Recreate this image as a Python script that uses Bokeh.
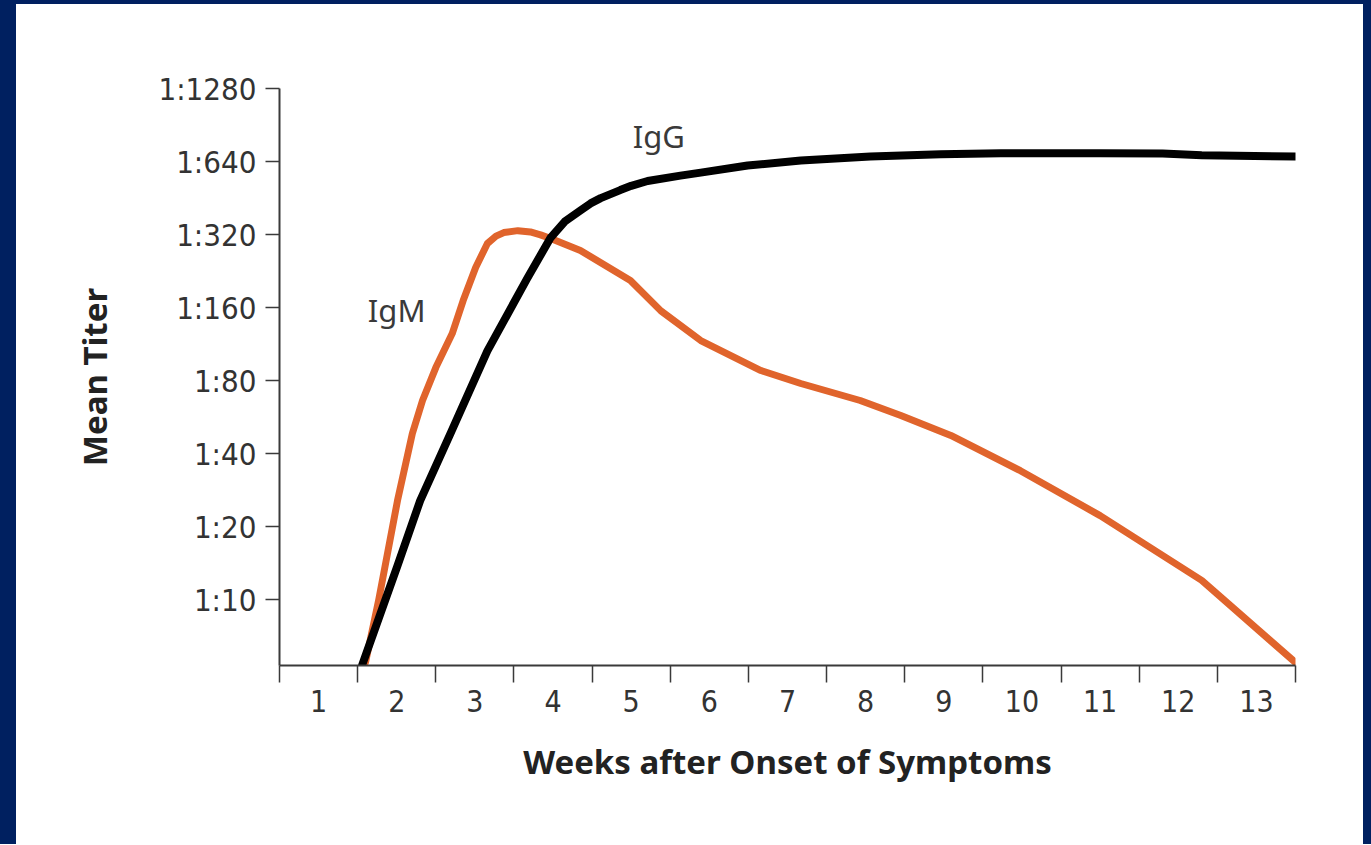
from bokeh.plotting import figure
from bokeh.models import FixedTicker, Range1d, ColumnDataSource, Div
from bokeh.layouts import column, row
from bokeh.core.properties import value
from bokeh.embed import file_html
from bokeh.resources import INLINE

# ---- data ----
weeks = [1, 2, 3, 4, 5, 6, 7, 8, 9, 10, 11, 12, 13]
titer_ticks = [10, 20, 40, 80, 160, 320, 640, 1280]
titer_labels = ["1:10", "1:20", "1:40", "1:80", "1:160", "1:320", "1:640", "1:1280"]

igg_week = [1.56, 2.01, 2.30, 2.70, 3.16, 3.67, 3.97, 4.15, 4.35, 4.48, 4.61, 4.86,
            5.00, 5.21, 5.63, 5.89, 6.49, 7.17, 8.06, 8.96, 9.73, 11.0, 11.8,
            12.3, 13.5]
igg_titer = [5.4, 13.8, 25.6, 49.4, 106, 211, 311, 362, 402, 430, 452, 488,
             508, 532, 560, 576, 616, 646, 671, 686, 692, 692, 690,
             680, 671]

igm_week = [1.60, 1.77, 2.01, 2.20, 2.33, 2.50, 2.71, 2.85, 3.01, 3.16, 3.27, 3.37,
            3.55, 3.71, 3.84, 3.97, 4.35, 4.99, 5.38, 5.89, 6.66, 7.17, 7.93, 8.45,
            9.09, 9.98, 11.0, 12.3, 13.5]
igm_titer = [5.5, 10.0, 25.6, 48.4, 66.2, 90.5, 125, 171, 234, 294, 315, 326,
             332, 328, 319, 308, 275, 207, 155, 117, 88, 77.8, 66.2, 57.4,
             47.5, 34.0, 22.2, 12.0, 5.5]

series_names = ["IgG", "IgM"]
label_week = [5.02, 1.63]
label_titer = [819, 157]

NAVY = "#002060"

# ---- figure ----
p = figure(width=1347, height=840, output_backend="svg", toolbar_location=None,
           x_range=Range1d(0.5, 13.5), y_range=Range1d(5.35, 1280),
           y_axis_type="log",
           min_border_left=263, min_border_right=68,
           min_border_top=84, min_border_bottom=179, margin=0)
p.background_fill_color = "white"
p.border_fill_color = "white"
p.outline_line_color = None
p.xgrid.visible = False
p.ygrid.visible = False

tick_font = "DejaVu Sans Condensed, DejaVu Sans"
axis_col = "#3a3a3a"

# x axis
xa = p.xaxis[0]
xa.ticker = FixedTicker(ticks=weeks, minor_ticks=[w - 0.5 for w in weeks] + [weeks[-1] + 0.5])
xa.axis_line_color = axis_col
xa.axis_line_width = 2
xa.major_tick_out = 0
xa.major_tick_in = 0
xa.minor_tick_out = 17
xa.minor_tick_in = 0
xa.minor_tick_line_color = axis_col
xa.minor_tick_line_width = 1.5
xa.major_label_text_font = tick_font
xa.major_label_text_font_size = "30px"
xa.major_label_text_color = "#333333"
xa.major_label_standoff = 7
xa.axis_label = "Weeks after Onset of Symptoms"
xa.axis_label_text_font = "Noto Sans"
xa.axis_label_text_font_style = "bold"
xa.axis_label_text_font_size = "33px"
xa.axis_label_text_color = "#222222"
xa.axis_label_standoff = 24

# y axis
ya = p.yaxis[0]
ya.ticker = FixedTicker(ticks=titer_ticks, minor_ticks=[])
ya.major_label_overrides = {t: l for t, l in zip(titer_ticks, titer_labels)}
ya.axis_line_color = axis_col
ya.axis_line_width = 2
ya.major_tick_out = 14
ya.major_tick_in = 0
ya.major_tick_line_color = axis_col
ya.major_tick_line_width = 1.5
ya.minor_tick_out = 0
ya.minor_tick_in = 0
ya.major_label_text_font = tick_font
ya.major_label_text_font_size = "31px"
ya.major_label_text_color = "#333333"
ya.major_label_standoff = 9
ya.axis_label = "Mean Titer"
ya.axis_label_text_font = "Noto Sans"
ya.axis_label_text_font_style = "bold"
ya.axis_label_text_font_size = "33px"
ya.axis_label_text_color = "#222222"
ya.axis_label_standoff = 38

# curves
p.line(igm_week, igm_titer, line_color="#e0642c", line_width=7,
       line_join="round", line_cap="round")
p.line(igg_week, igg_titer, line_color="#000000", line_width=8,
       line_join="round", line_cap="round")

src = ColumnDataSource(dict(x=label_week, y=label_titer, t=series_names))
p.text(x="x", y="y", text="t", source=src, text_font=value("Noto Sans"),
       text_font_size=value("31px"), text_color="#3a3a3a",
       text_align="left", text_baseline="alphabetic")

# navy frame strips around the white panel
top_strip = Div(text="", width=1371, height=4, margin=0,
                styles={"background-color": NAVY})
left_strip = Div(text="", width=16, height=840, margin=0,
                 styles={"background-color": NAVY})
right_strip = Div(text="", width=8, height=840, margin=0,
                  styles={"background-color": NAVY})
page = column(top_strip, row(left_strip, p, right_strip, spacing=0, margin=0),
              spacing=0, margin=0)

open("out.html", "w").write(file_html(page, INLINE))
